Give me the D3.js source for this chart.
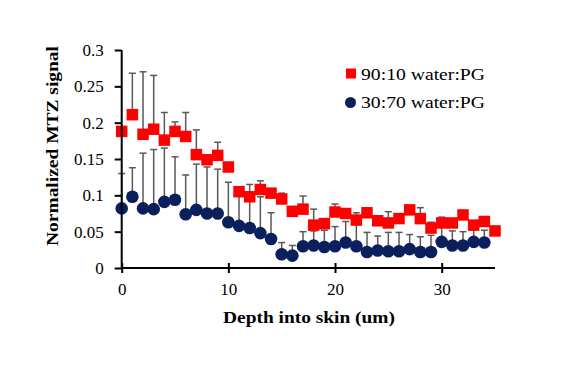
<!DOCTYPE html>
<html>
<head>
<meta charset="utf-8">
<script src="https://cdn.jsdelivr.net/npm/d3@7"></script>
<style>
  body { margin: 0; background: #fff; }
  svg text { font-family: "Liberation Serif", "Times New Roman", serif; fill: #000; }
</style>
</head>
<body>
<div id="chart"></div>
<script>
// depth into skin (um)
const depth = d3.range(0, 36);

// 90:10 water:PG
const redMean = [0.188, 0.211, 0.184, 0.191, 0.176, 0.188, 0.181, 0.156, 0.149, 0.155,
  0.139, 0.105, 0.098, 0.108, 0.103, 0.095, 0.078, 0.081, 0.059, 0.061,
  0.077, 0.075, 0.066, 0.076, 0.065, 0.062, 0.068, 0.080, 0.068, 0.055,
  0.062, 0.062, 0.073, 0.059, 0.064, 0.051];
const redTop = [0.19, 0.268, 0.270, 0.265, 0.214, 0.201, 0.214, 0.190, 0.150, 0.173,
  0.14, 0.106, 0.115, 0.120, 0.104, 0.103, 0.079, 0.099, 0.081, 0.068,
  0.088, 0.080, 0.076, 0.082, 0.066, 0.0775, 0.069, 0.081, 0.083, 0.063,
  0.070, 0.063, 0.074, 0.060, 0.065, 0.052];

// 30:70 water:PG
const blueMean = [0.082, 0.098, 0.082, 0.081, 0.091, 0.094, 0.074, 0.080, 0.075, 0.075,
  0.063, 0.058, 0.055, 0.048, 0.040, 0.019, 0.017, 0.030, 0.031, 0.029,
  0.030, 0.035, 0.030, 0.022, 0.024, 0.023, 0.023, 0.026, 0.022, 0.022,
  0.036, 0.031, 0.031, 0.036, 0.035];
const blueTop = [0.130, 0.138, 0.158, 0.163, 0.165, 0.153, 0.128, 0.143, 0.139, 0.136,
  0.118, 0.100, 0.092, 0.098, 0.076, 0.035, 0.031, 0.050, 0.051, 0.052,
  0.057, 0.064, 0.060, 0.049, 0.044, 0.049, 0.049, 0.046, 0.043, 0.045,
  0.058, 0.051, 0.050, 0.052, 0.052];

const seriesNames = ["90:10 water:PG", "30:70 water:PG"];
const xTicks = [0, 10, 20, 30];
const yTicks = [0, 0.05, 0.1, 0.15, 0.2, 0.25, 0.3];

const width = 567, height = 378;
const red = "#ff0000", navy = "#0b1f5c", errColor = "#595959";
const serif = "Liberation Serif, Times New Roman, serif";

const svg = d3.select("#chart").append("svg")
  .attr("width", width)
  .attr("height", height);

const x = d3.scaleLinear().domain([0, 35]).range([121.7, 495]);
const y = d3.scaleLinear().domain([0, 0.3]).range([268, 50]);

// error bars (upper only)
function errorBars(mean, top) {
  const g = svg.append("g")
    .attr("stroke", errColor)
    .attr("stroke-width", 1.5);
  g.selectAll("line.v")
    .data(mean)
    .enter().append("line")
    .attr("class", "v")
    .attr("x1", (d, i) => x(depth[i]))
    .attr("x2", (d, i) => x(depth[i]))
    .attr("y1", d => y(d))
    .attr("y2", (d, i) => y(top[i]));
  g.selectAll("line.c")
    .data(mean)
    .enter().append("line")
    .attr("class", "c")
    .attr("x1", (d, i) => x(depth[i]) - 3.5)
    .attr("x2", (d, i) => x(depth[i]) + 3.5)
    .attr("y1", (d, i) => y(top[i]))
    .attr("y2", (d, i) => y(top[i]));
}
errorBars(blueMean, blueTop);
errorBars(redMean, redTop);

svg.append("g").selectAll("circle")
  .data(blueMean)
  .enter().append("circle")
  .attr("cx", (d, i) => x(depth[i]))
  .attr("cy", d => y(d))
  .attr("r", 6.3)
  .attr("fill", navy);

const sq = 11.5;
svg.append("g").selectAll("rect")
  .data(redMean)
  .enter().append("rect")
  .attr("x", (d, i) => x(depth[i]) - sq / 2)
  .attr("y", d => y(d) - sq / 2)
  .attr("width", sq)
  .attr("height", sq)
  .attr("fill", red);

// axes
const yAxis = d3.axisLeft(y).tickValues(yTicks).tickSize(7).tickPadding(11)
  .tickFormat(d => d3.format("")(+d.toFixed(2)));
svg.append("g")
  .attr("transform", "translate(" + x(0) + ",0)")
  .attr("font-family", serif)
  .call(yAxis)
  .call(g => g.select(".domain").attr("stroke-width", 2).attr("d", "M0," + y(0.3) + "V" + y(0)))
  .call(g => g.selectAll(".tick line").attr("stroke-width", 2))
  .call(g => g.selectAll("text").attr("font-size", 17));

const xAxis = d3.axisBottom(x).tickValues(xTicks).tickSize(5).tickPadding(10);
svg.append("g")
  .attr("transform", "translate(0," + y(0) + ")")
  .attr("font-family", serif)
  .call(xAxis)
  .call(g => g.select(".domain").attr("stroke-width", 2).attr("d", "M" + x(0) + ",0H" + x(35)))
  .call(g => g.selectAll(".tick line").attr("stroke-width", 2).attr("y1", -5))
  .call(g => g.selectAll("text").attr("font-size", 17));

// titles
svg.append("text")
  .attr("x", 309)
  .attr("y", 323)
  .attr("text-anchor", "middle")
  .attr("font-size", 17)
  .attr("font-weight", "bold")
  .attr("textLength", 172)
  .attr("lengthAdjust", "spacingAndGlyphs")
  .text("Depth into skin (um)");

svg.append("text")
  .attr("transform", "translate(58,146) rotate(-90)")
  .attr("text-anchor", "middle")
  .attr("font-size", 17)
  .attr("font-weight", "bold")
  .attr("textLength", 200)
  .attr("lengthAdjust", "spacingAndGlyphs")
  .text("Normalized MTZ signal");

// legend
const legend = svg.append("g");
legend.append("rect")
  .attr("x", 346).attr("y", 68.5).attr("width", 10).attr("height", 10)
  .attr("fill", red);
legend.append("circle")
  .attr("cx", 350.5).attr("cy", 102.5).attr("r", 5.5)
  .attr("fill", navy);
legend.selectAll("text")
  .data(seriesNames)
  .enter().append("text")
  .attr("x", 361)
  .attr("y", (d, i) => 80 + i * 28)
  .attr("font-size", 17)
  .attr("textLength", 124)
  .attr("lengthAdjust", "spacingAndGlyphs")
  .text(d => d);
</script>
</body>
</html>
